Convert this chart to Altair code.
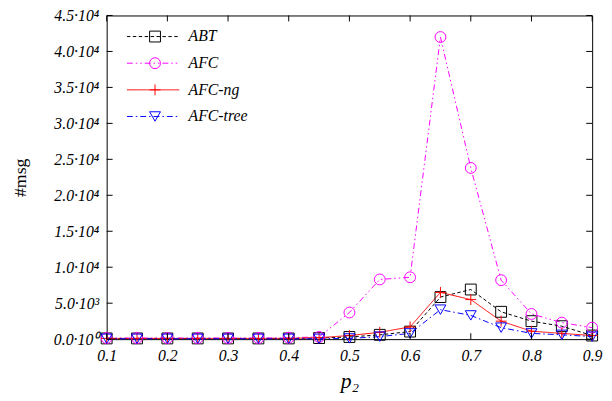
import altair as alt
import pandas as pd

# ---- data ----
p2_values = [0.1, 0.15, 0.2, 0.25, 0.3, 0.35, 0.4, 0.45, 0.5, 0.55, 0.6,
             0.65, 0.7, 0.75, 0.8, 0.85, 0.9]
series_names = ["ABT", "AFC", "AFC-ng", "AFC-tree"]
abt = [100, 100, 100, 100, 100, 100, 100, 150, 300, 600, 1050,
       5850, 6900, 3800, 2500, 1800, 500]
afc = [150, 150, 150, 150, 150, 150, 200, 300, 3700, 8300, 8600,
       42000, 23800, 8200, 3500, 2300, 1600]
afc_ng = [100, 100, 100, 100, 100, 100, 100, 200, 500, 950, 1700,
          6500, 5500, 2500, 1100, 800, 500]
afc_tree = [50, 50, 50, 50, 50, 50, 50, 50, 100, 350, 800,
            4100, 3300, 1600, 800, 600, 350]
x_ticks = [0.1, 0.2, 0.3, 0.4, 0.5, 0.6, 0.7, 0.8, 0.9]
y_ticks = [0, 5000, 10000, 15000, 20000, 25000, 30000, 35000, 40000, 45000]

rows = []
for name, vals in zip(series_names, [abt, afc, afc_ng, afc_tree]):
    for x, v in zip(p2_values, vals):
        rows.append({"p2": x, "msgs": v, "series": name})
df = pd.DataFrame(rows)
xt_df = pd.DataFrame({"t": x_ticks})
yt_df = pd.DataFrame({"t": y_ticks})

# ---- styling ----
W, H = 492, 328
TICK = 6
FONT = "Liberation Serif"
colors = ["#000000", "#ff00ff", "#ff0000", "#0000ff"]
dashes = [[3.5, 2.5], [6, 3, 1.5, 3, 1.5, 3], [1, 0], [6, 3, 1.5, 3]]
shapes = ["square", "circle", "M-1,0H1M0,-1V1", "triangle-down"]

xscale = alt.Scale(domain=[0.1, 0.9], nice=False, zero=False)
yscale = alt.Scale(domain=[0, 45000], nice=False)
cscale = alt.Scale(domain=series_names, range=colors)

y_label_expr = ("datum.value == 0 ? '0.0·10⁰' : datum.value < 10000 ? "
                "format(datum.value / 1000, '.1f') + '·10³' : "
                "format(datum.value / 10000, '.1f') + '·10⁴'")

x_axis = alt.Axis(
    orient="bottom", values=x_ticks, format=".1f", ticks=False, tickSize=0,
    domain=False, grid=False, labelFlush=False, labelFont=FONT,
    labelFontStyle="italic", labelFontSize=16, labelPadding=9,
    labelColor="black", title="p₂", titleFont=FONT, titleFontStyle="italic",
    titleFontSize=22, titleFontWeight="normal", titlePadding=7,
    titleColor="black")
y_axis = alt.Axis(
    orient="left", values=y_ticks, labelExpr=y_label_expr, ticks=False,
    tickSize=0, domain=False, grid=False, labelFlush=False, labelFont=FONT,
    labelFontStyle="italic", labelFontSize=16, labelPadding=8,
    labelColor="black", title="#msg", titleFont=FONT, titleFontSize=18,
    titleFontWeight="normal", titlePadding=24, titleColor="black")

LEG_X, LEG_Y = 20, 8
line_legend = alt.Legend(
    orient="none", legendX=LEG_X, legendY=LEG_Y, title=None,
    symbolType="stroke", symbolSize=2809, symbolStrokeWidth=1,
    clipHeight=26.7, rowPadding=0, padding=0, labelFont=FONT,
    labelFontStyle="italic", labelFontSize=16, labelOffset=9,
    labelColor="black")
point_legend = alt.Legend(
    orient="none", legendX=LEG_X + 21, legendY=LEG_Y, title=None,
    symbolSize=121, symbolStrokeWidth=1, clipHeight=26.7, rowPadding=0,
    padding=0, labelFont=FONT, labelFontSize=16, labelExpr="''")

base = alt.Chart(df)

lines = base.mark_line(strokeWidth=1).encode(
    x=alt.X("p2:Q", scale=xscale, axis=x_axis),
    y=alt.Y("msgs:Q", scale=yscale, axis=y_axis),
    color=alt.Color("series:N", scale=cscale, legend=line_legend),
    strokeDash=alt.StrokeDash("series:N",
                              scale=alt.Scale(domain=series_names, range=dashes),
                              legend=line_legend),
)

points = base.mark_point(filled=False, size=121, strokeWidth=1, opacity=1).encode(
    x=alt.X("p2:Q", scale=xscale, axis=x_axis),
    y=alt.Y("msgs:Q", scale=yscale, axis=y_axis),
    color=alt.Color("series:N", scale=cscale, legend=point_legend),
    shape=alt.Shape("series:N",
                    scale=alt.Scale(domain=series_names, range=shapes),
                    legend=point_legend),
)

# inward tick marks on all four sides of the frame (gnuplot style)
xt_bottom = alt.Chart(xt_df).mark_rule(color="black", strokeWidth=1).encode(
    x=alt.X("t:Q", scale=xscale, axis=x_axis),
    y=alt.value(H - TICK), y2=alt.value(H))
xt_top = alt.Chart(xt_df).mark_rule(color="black", strokeWidth=1).encode(
    x=alt.X("t:Q", scale=xscale, axis=x_axis),
    y=alt.value(0), y2=alt.value(TICK))
yt_left = alt.Chart(yt_df).mark_rule(color="black", strokeWidth=1).encode(
    y=alt.Y("t:Q", scale=yscale, axis=y_axis),
    x=alt.value(0), x2=alt.value(TICK))
yt_right = alt.Chart(yt_df).mark_rule(color="black", strokeWidth=1).encode(
    y=alt.Y("t:Q", scale=yscale, axis=y_axis),
    x=alt.value(W - TICK), x2=alt.value(W))

chart = alt.layer(lines, points, xt_bottom, xt_top, yt_left, yt_right).resolve_legend(
    color="independent", shape="independent", strokeDash="independent"
).properties(
    width=W, height=H,
    autosize=alt.AutoSizeParams(type="none"),
    padding={"left": 100, "top": 5, "right": 12, "bottom": 52},
).configure_view(stroke="black", strokeWidth=1)

chart.save("out.html", embed_options={"renderer": "svg", "actions": False})
